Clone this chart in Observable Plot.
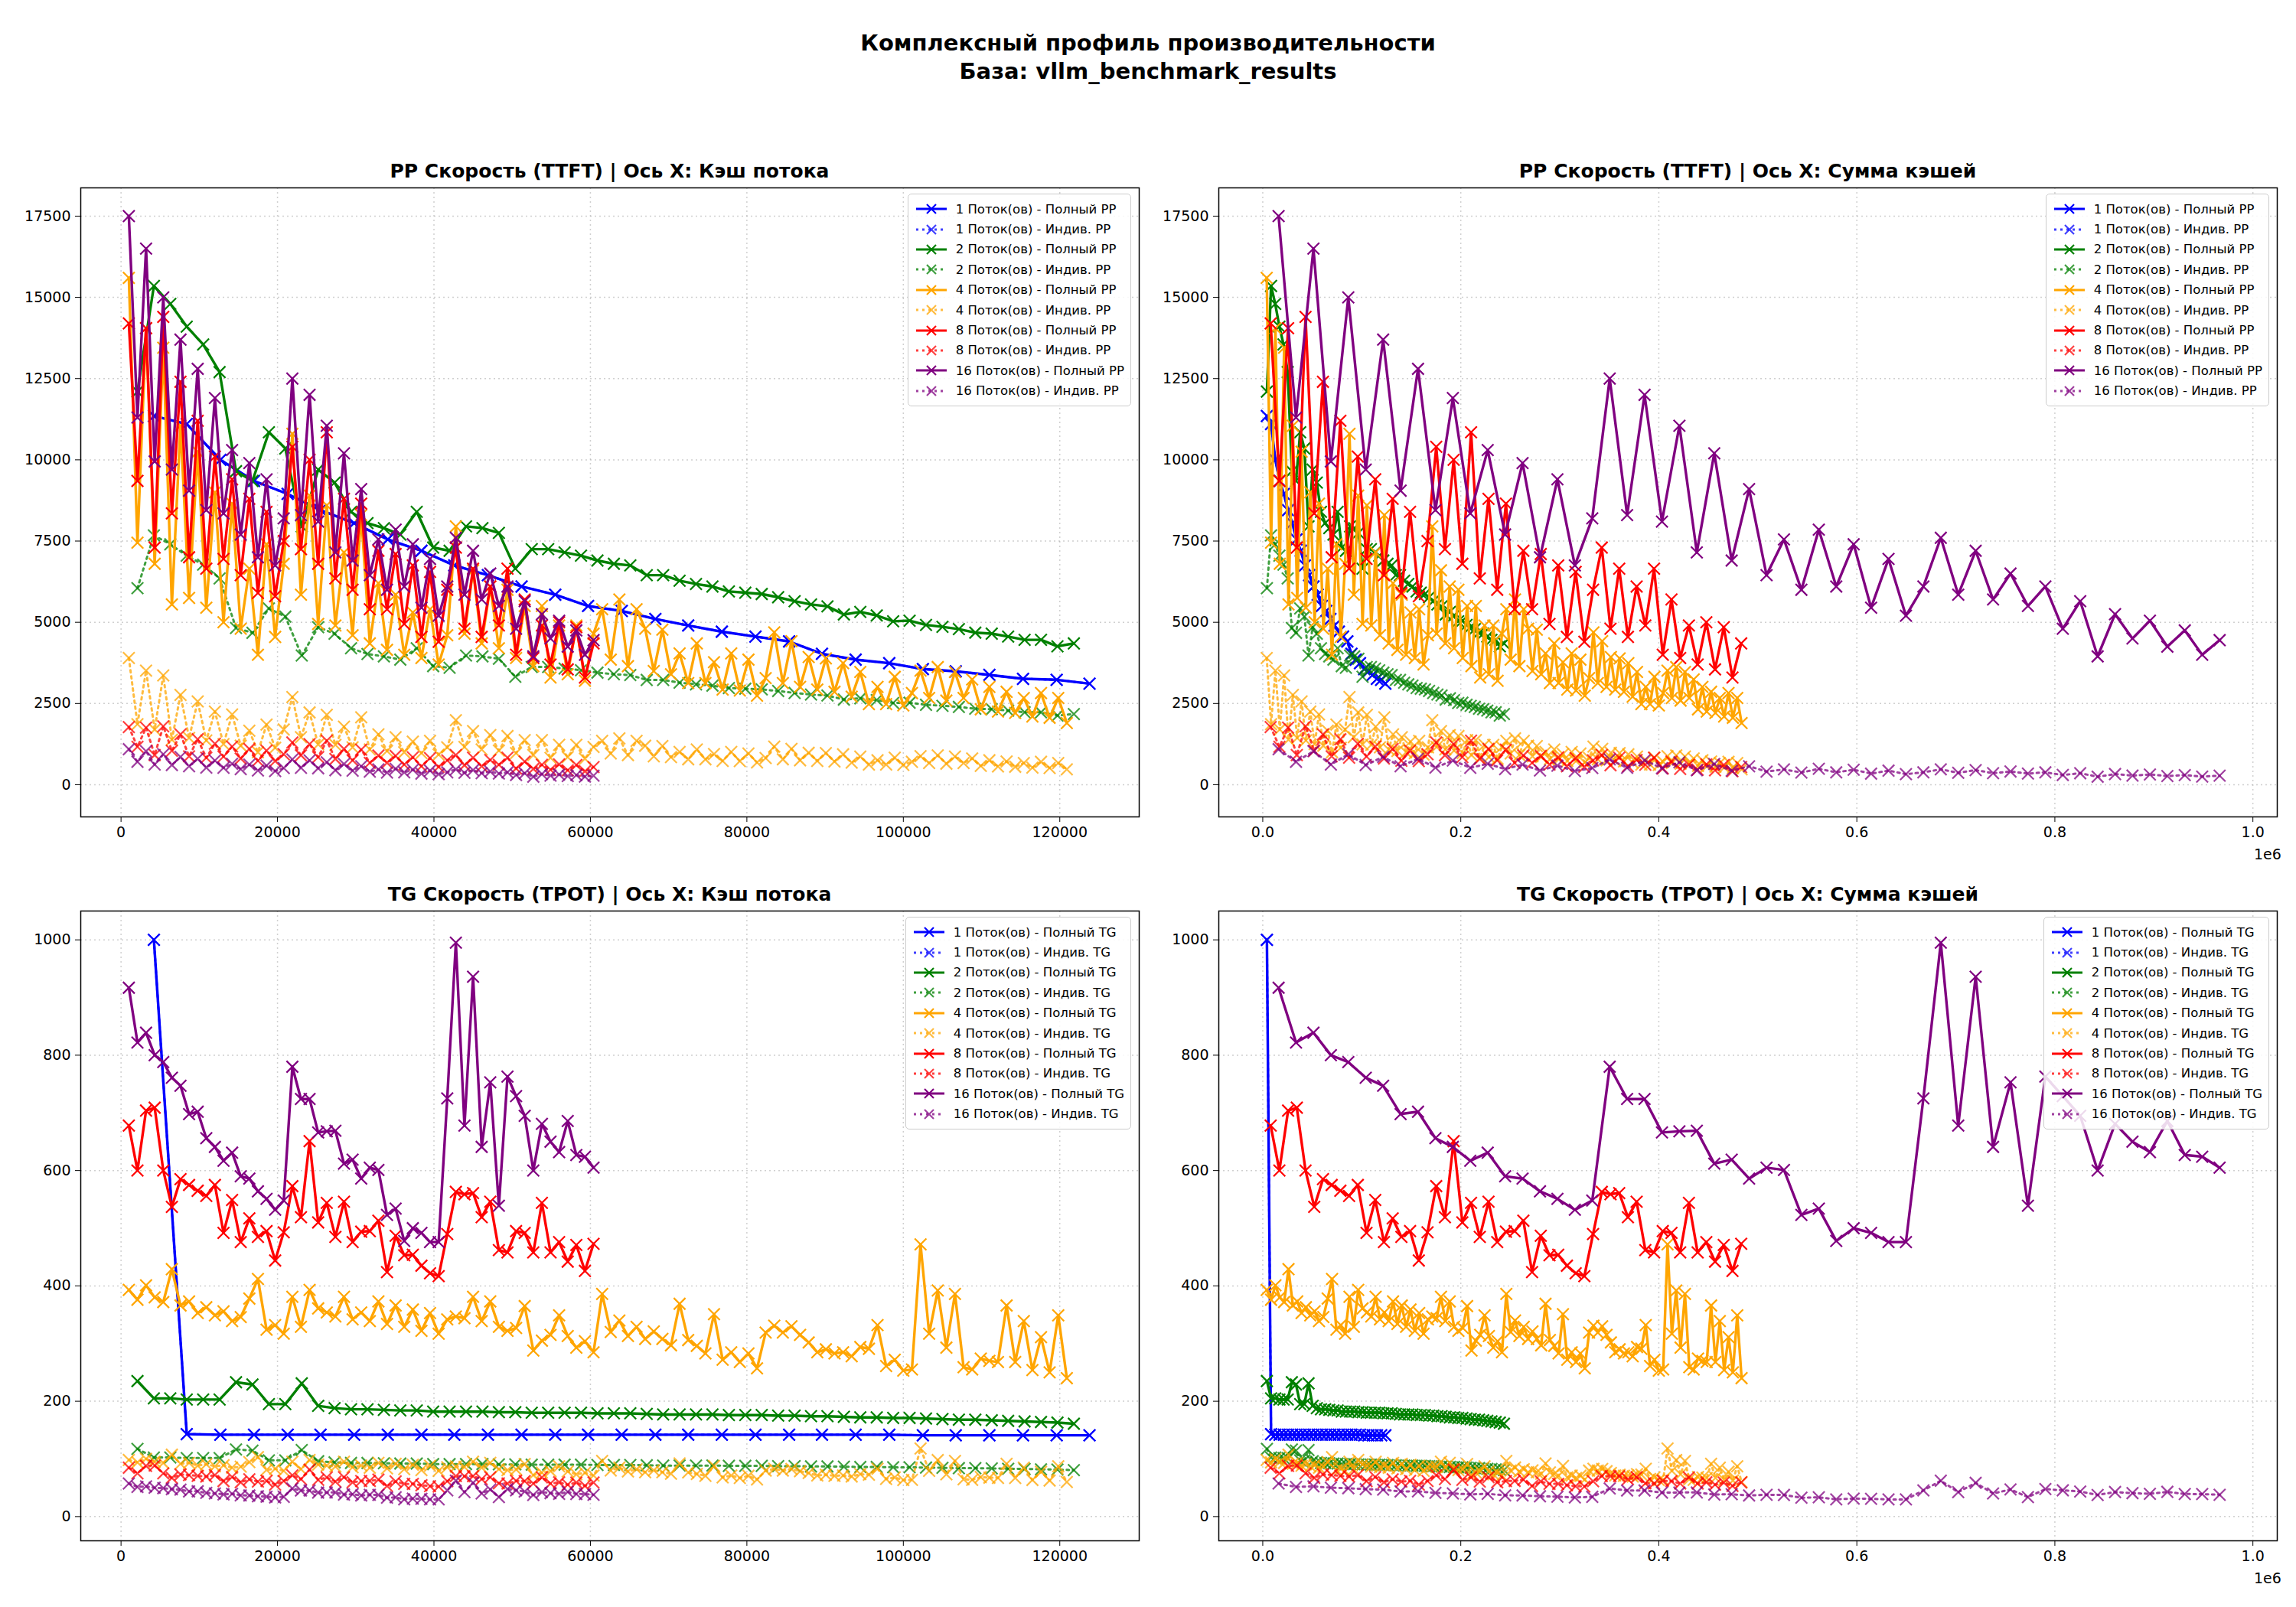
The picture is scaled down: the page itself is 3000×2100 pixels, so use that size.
<!DOCTYPE html>
<html><head><meta charset="utf-8">
<script src="https://cdn.jsdelivr.net/npm/d3@7"></script>
<script src="https://cdn.jsdelivr.net/npm/@observablehq/plot@0.6"></script>
<style>
body{margin:0;background:#fff;font-family:"DejaVu Sans",sans-serif;}
#fig{position:relative;width:3000px;height:2100px;}
.abs{position:absolute;}
.ttl{font-weight:bold;font-size:25px;text-align:center;}
.leg{position:absolute;background:rgba(255,255,255,0.85);border:1.5px solid #ccc;border-radius:5px;padding:6px 8px;font-size:16.5px;}
.leg div{display:flex;align-items:center;height:26.4px;white-space:nowrap;}
</style></head><body><div id="fig"></div>
<script>
const threads = [1, 2, 4, 8, 16];
const colors = ["blue", "green", "orange", "red", "purple"];

const cache1 = [4200,8400,12700,17000,21300,25500,29800,34100,38400,42600,46900,51200,55500,59700,64000,68300,72500,76800,81100,85400,89600,93900,98200,102500,106700,111000,115300,119600,123800];
const pp1 = [11350,11100,10000,9350,8950,8450,8050,7550,7200,6750,6450,6100,5850,5500,5350,5100,4900,4710,4560,4410,4030,3850,3740,3560,3490,3380,3260,3230,3110];
const tg1 = [1000,143,142,142,142,142,142,142,142,142,142,142,142,142,142,142,142,142,142,142,142,142,142,141,141,141,141,141,141];

const cache2 = [2100,4200,6300,8400,10500,12600,14700,16800,18900,21000,23100,25200,27300,29400,31500,33600,35700,37800,39900,42000,44100,46200,48300,50400,52500,54600,56700,58800,60900,63000,65100,67200,69300,71400,73500,75600,77700,79800,81900,84000,86100,88200,90300,92400,94500,96600,98700,100800,102900,105000,107100,109200,111300,113400,115500,117600,119700,121800];
const pp2 = [12100,15350,14800,14100,13550,12700,9650,9350,10850,10350,7950,9700,9300,8400,8050,7900,7700,8400,7300,7200,7950,7900,7750,6650,7250,7250,7150,7050,6900,6800,6750,6450,6450,6280,6180,6100,5950,5910,5870,5770,5650,5550,5490,5240,5320,5210,5030,5050,4920,4860,4790,4680,4650,4560,4460,4460,4260,4350];
const tg2 = [235,205,205,203,203,203,233,229,195,195,231,192,188,186,186,185,184,184,182,182,182,182,181,181,180,180,180,180,179,179,179,178,177,177,177,177,176,176,176,175,175,174,174,173,172,172,171,171,170,169,168,168,167,166,165,164,163,161];

const cacheGrid = [1000,2100,3200,4300,5400,6500,7600,8700,9800,10900,12000,13100,14200,15300,16400,17500,18600,19700,20800,21900,23000,24100,25200,26300,27400,28500,29600,30700,31800,32900,34000,35100,36200,37300,38400,39500,40600,41700,42800,43900,45000,46100,47200,48300,49400,50500,51600,52700,53800,54900,56000,57100,58200,59300,60400,61500,62600,63700,64800,65900,67000,68100,69200,70300,71400,72500,73600,74700,75800,76900,78000,79100,80200,81300,82400,83500,84600,85700,86800,87900,89000,90100,91200,92300,93400,94500,95600,96700,97800,98900,100000,101100,102200,103300,104400,105500,106600,107700,108800,109900,111000,112100,113200,114300,115400,116500,117600,118700,119800,120900,122000];

const pp4 = [15600,7450,14050,6800,13450,5550,11050,5750,10250,5450,9000,5000,8650,4800,6650,4000,7400,4550,6800,10800,5850,8900,4950,8600,4900,7150,4600,8300,4350,6200,4150,5850,4000,5300,3900,5400,3700,4600,7950,4650,6600,4350,6100,4200,6000,3900,5500,3650,5500,3300,4900,3400,4900,3200,4650,5400,3850,5700,3650,5400,4800,
3500,4770,3400,4040,3130,4350,3130,3770,2930,4040,2900,3850,2740,3280,4690,3130,4420,3010,3930,2930,3890,2860,3740,2710,3470,2480,3010,2480,3320,2440,2820,3510,2670,3620,2590,3470,2670,3240,2320,3010,2250,2860,2210,2670,2100,2820,2060,2670,1900];
const tg4 = [393,376,401,380,372,429,366,373,353,363,349,356,339,346,378,412,324,332,317,381,329,393,361,354,347,381,342,354,339,373,334,366,329,359,322,353,317,342,347,344,381,339,373,329,322,327,365,288,305,315,349,313,293,304,285,386,320,340,313,329,308,
321,308,297,369,306,296,283,351,272,285,268,283,257,319,331,319,330,315,302,285,290,283,285,278,294,291,332,261,272,253,255,472,317,392,293,386,259,255,274,270,268,366,268,339,254,311,250,349,240];

const pp8 = [14200,9350,14050,7300,14400,8350,12400,7000,11200,6650,10100,6950,9400,6450,8800,5900,8400,5800,7500,10400,7250,10000,6800,10850,6350,8800,6000,8650,5400,7200,5400,7100,4950,6750,4550,6550,4400,6000,7300,4800,6650,4550,6100,4900,6650,4000,5700,3900,4900,3700,5000,3550,4850,3300,4350];
const tg8 = [678,600,704,709,600,537,585,575,565,556,575,492,549,476,517,485,495,444,493,573,519,651,510,544,485,546,476,494,495,513,424,487,453,454,435,422,417,490,563,559,561,519,546,462,458,495,492,458,544,458,476,442,471,426,473];

const pp16 = [17500,11300,16500,9950,15000,9700,13700,9050,12800,8450,11900,8350,10300,7700,9900,7000,9400,6750,8200,12500,8300,12000,8100,11050,7150,10200,6900,9100,6450,7550,6000,7850,6100,7400,5450,6950,5200,6100,7600,5850,7200,5700,6500,5500,6100,4800,5650,3950,5250,4500,5050,4250,4750,4000,4450];
const tg16 = [917,822,839,800,788,761,747,698,702,656,641,617,631,590,586,564,551,532,548,780,724,724,666,668,669,612,619,586,605,601,523,534,478,500,492,476,476,725,995,678,936,641,753,539,763,729,695,600,681,650,632,686,627,624,605];

const caches = [cache1, cache2, cacheGrid, cacheGrid.slice(0, 55), cacheGrid.slice(0, 55)];
const pps = [pp1, pp2, pp4, pp8, pp16];
const tgs = [tg1, tg2, tg4, tg8, tg16];

const fig = document.getElementById("fig");
function addDiv(cls, style, html){const d=document.createElement("div");d.className=cls;d.style.cssText=style;d.innerHTML=html;fig.appendChild(d);return d;}
addDiv("abs","left:0;width:3000px;top:38px;text-align:center;font-weight:bold;font-size:29px;line-height:1.28;","Комплексный профиль производительности<br>База: vllm_benchmark_results");

function panel({left, top, mL, mR, mT, mB, metric, sum, title, kind}) {
  const W = 1500, H = 910;
  const marks = [];
  const yDomain = metric === "pp" ? [-990, 18370] : [-42, 1050];
  const xDomain = sum ? [-44400, 1024600] : [-5150, 130150];
  marks.push(Plot.gridX({ticks: sum ? d3.range(0, 1000001, 200000) : d3.range(0, 120001, 20000), stroke: "#b0b0b0", strokeOpacity: 0.6, strokeDasharray: "2,4", strokeWidth: 1.5}));
  marks.push(Plot.gridY({ticks: metric === "pp" ? d3.range(0, 17501, 2500) : d3.range(0, 1001, 200), stroke: "#b0b0b0", strokeOpacity: 0.6, strokeDasharray: "2,4", strokeWidth: 1.5}));
  threads.forEach((n, i) => {
    const vals = metric === "pp" ? pps[i] : tgs[i];
    const full = vals.map((v, j) => ({x: sum ? caches[i][j] * n : caches[i][j], y: v}));
    const ind = vals.map((v, j) => ({x: sum ? caches[i][j] * n : caches[i][j], y: v / n}));
    marks.push(Plot.line(full, {x: "x", y: "y", stroke: colors[i], strokeWidth: 3.4}));
    marks.push(Plot.dot(full, {x: "x", y: "y", symbol: "times", r: 7, stroke: colors[i], strokeWidth: 2.2}));
    marks.push(Plot.line(ind, {x: "x", y: "y", stroke: colors[i], strokeWidth: 3, strokeDasharray: "3,5", strokeOpacity: 0.75}));
    marks.push(Plot.dot(ind, {x: "x", y: "y", symbol: "times", r: 7, stroke: colors[i], strokeWidth: 2.2, strokeOpacity: 0.75}));
  });
  marks.push(Plot.frame({stroke: "black", strokeWidth: 1.5}));
  marks.push(Plot.axisX({ticks: sum ? d3.range(0, 1000001, 200000) : d3.range(0, 120001, 20000), tickFormat: sum ? (d => (d / 1e6).toFixed(1)) : d3.format("d"), tickSize: 7, fontSize: 19, tickPadding: 6}));
  marks.push(Plot.axisY({ticks: metric === "pp" ? d3.range(0, 17501, 2500) : d3.range(0, 1001, 200), tickFormat: d3.format("d"), tickSize: 7, fontSize: 19, tickPadding: 6}));
  const svg = Plot.plot({
    width: W, height: H, marginLeft: mL, marginRight: mR, marginTop: mT, marginBottom: mB,
    x: {domain: xDomain, label: null}, y: {domain: yDomain, label: null},
    style: {fontFamily: "DejaVu Sans", fontSize: "19px", color: "black", background: "white", overflow: "visible"},
    marks
  });
  svg.style.position = "absolute"; svg.style.left = left + "px"; svg.style.top = top + "px";
  fig.appendChild(svg);
  const fl = left + mL, fr = left + W - mR;
  addDiv("abs ttl", `left:${fl}px;width:${fr - fl}px;top:${top + mT - 36}px;`, title);
  if (sum) addDiv("abs", `left:${fr - 30}px;top:${top + H - mB + 38}px;font-size:19px;`, "1e6");
  const leg = addDiv("leg", `right:${3000 - fr + 10}px;top:${top + mT + 8}px;`, "");
  const unit = metric === "pp" ? "PP" : "TG";
  threads.forEach((n, i) => {
    ["Полный", "Индив."].forEach((k, t) => {
      const dash = t ? 'stroke-dasharray="3,5" stroke-opacity="0.75"' : "";
      leg.innerHTML += `<div><svg width="44" height="20" style="margin-right:10px"><line x1="2" y1="10" x2="42" y2="10" stroke="${colors[i]}" stroke-width="3" ${dash}/><path d="M16,4L28,16M28,4L16,16" stroke="${colors[i]}" stroke-width="2.2" ${t ? 'stroke-opacity="0.75"' : ""}/></svg>${n} Поток(ов) - ${k} ${unit}</div>`;
    });
  });
}

panel({left: 0, top: 200, mL: 105, mR: 12, mT: 45, mB: 43, metric: "pp", sum: false, title: "PP Скорость (TTFT) | Ось X: Кэш потока"});
panel({left: 1500, top: 200, mL: 92, mR: 25, mT: 45, mB: 43, metric: "pp", sum: true, title: "PP Скорость (TTFT) | Ось X: Сумма кэшей"});
panel({left: 0, top: 1150, mL: 105, mR: 12, mT: 40, mB: 47, metric: "tg", sum: false, title: "TG Скорость (TPOT) | Ось X: Кэш потока"});
panel({left: 1500, top: 1150, mL: 92, mR: 25, mT: 40, mB: 47, metric: "tg", sum: true, title: "TG Скорость (TPOT) | Ось X: Сумма кэшей"});
</script></body></html>
